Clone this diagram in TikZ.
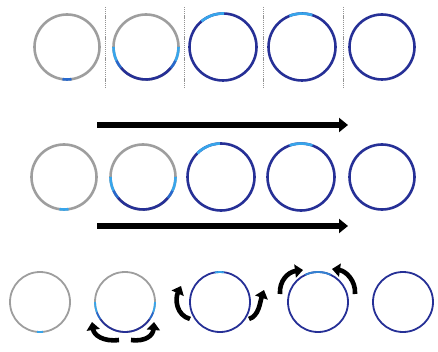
\documentclass[tikz,border=0pt]{standalone}
\usetikzlibrary{arrows.meta}
\definecolor{ringgray}{RGB}{158,158,158}
\definecolor{ringblue}{RGB}{38,48,150}
\definecolor{ringmid}{RGB}{40,105,205}
\definecolor{ringcyan}{RGB}{55,165,235}

\begin{document}
\begin{tikzpicture}[x=1pt, y=1pt, >={Triangle[length=9pt, width=14pt]}]
\tikzset{
	ring/.style={circle, draw=ringgray, line width=2.6pt, minimum size=65pt, inner sep=0pt, outer sep=0pt},
	bluering/.style={ring, draw=ringblue},
	thinring/.style={line width=1.8pt, minimum size=60pt},
	seg/.style={line width=2.6pt, line cap=butt},
	thinseg/.style={line width=1.8pt, line cap=butt},
	sep/.style={draw=gray!85, line width=1pt, dash pattern=on 1.2pt off 0.9pt},
	flow/.style={->, line width=5.5pt},
	turn/.style={-{Triangle[length=8pt, width=13pt]}, line width=4.6pt}
}
\useasboundingbox (0,0) rectangle (438,-352);

% Row 1 with separators
\node[ring] (a1) at (67,-47) {};
\node[ring] (a2) at (146,-47) {};
\node[bluering, minimum size=67pt] (a3) at (223,-47) {};
\node[bluering, minimum size=67pt] (a4) at (302,-47) {};
\node[bluering] (a5) at (382,-47) {};

\draw[seg, ringmid] (a1.262) arc[start angle=262, end angle=278, radius=32.5];
\draw[seg, ringcyan] (a2.180) arc[start angle=180, end angle=205, radius=32.5];
\draw[seg, ringmid] (a2.205) arc[start angle=205, end angle=220, radius=32.5];
\draw[seg, ringblue] (a2.220) arc[start angle=220, end angle=320, radius=32.5];
\draw[seg, ringmid] (a2.320) arc[start angle=320, end angle=335, radius=32.5];
\draw[seg, ringcyan] (a2.335) arc[start angle=335, end angle=360, radius=32.5];
\draw[seg, ringcyan] (a3.88) arc[start angle=88, end angle=130, radius=33.5];
\draw[seg, ringcyan] (a4.72) arc[start angle=72, end angle=112, radius=33.5];

\draw[sep] (105,-7) -- (105,-88);
\draw[sep] (184,-7) -- (184,-88);
\draw[sep] (263,-7) -- (263,-88);
\draw[sep] (343,-7) -- (343,-88);

% Row 2 between the two arrows
\coordinate (t1) at (97,-125);
\coordinate (t2) at (348,-125);
\coordinate (u1) at (97,-226);
\coordinate (u2) at (348,-226);
\draw[flow] (t1) -- (t2);
\draw[flow] (u1) -- (u2);

\node[ring] (b1) at (64,-177) {};
\node[ring] (b2) at (143,-177) {};
\node[bluering, minimum size=67pt] (b3) at (221,-177) {};
\node[bluering, minimum size=67pt] (b4) at (301,-177) {};
\node[bluering] (b5) at (382,-177) {};

\draw[seg, ringcyan] (b1.262) arc[start angle=262, end angle=278, radius=32.5];
\draw[seg, ringcyan] (b2.180) arc[start angle=180, end angle=205, radius=32.5];
\draw[seg, ringmid] (b2.205) arc[start angle=205, end angle=220, radius=32.5];
\draw[seg, ringblue] (b2.220) arc[start angle=220, end angle=320, radius=32.5];
\draw[seg, ringmid] (b2.320) arc[start angle=320, end angle=335, radius=32.5];
\draw[seg, ringcyan] (b2.335) arc[start angle=335, end angle=360, radius=32.5];
\draw[seg, ringcyan] (b3.92) arc[start angle=92, end angle=135, radius=33.5];
\draw[seg, ringcyan] (b4.70) arc[start angle=70, end angle=110, radius=33.5];

% Row 3 with turning arrows
\node[ring, thinring] (c1) at (40,-302) {};
\node[ring, thinring] (c2) at (125,-302) {};
\node[bluering, thinring] (c3) at (220,-302) {};
\node[bluering, thinring] (c4) at (318,-302) {};
\node[bluering, thinring] (c5) at (403,-302) {};

\draw[thinseg, ringcyan] (c1.264) arc[start angle=264, end angle=276, radius=30];
\draw[thinseg, ringcyan] (c2.180) arc[start angle=180, end angle=200, radius=30];
\draw[thinseg, ringmid] (c2.200) arc[start angle=200, end angle=215, radius=30];
\draw[thinseg, ringblue] (c2.215) arc[start angle=215, end angle=325, radius=30];
\draw[thinseg, ringmid] (c2.325) arc[start angle=325, end angle=340, radius=30];
\draw[thinseg, ringcyan] (c2.340) arc[start angle=340, end angle=360, radius=30];
\draw[thinseg, ringcyan] (c3.82) arc[start angle=82, end angle=100, radius=30];
\draw[thinseg, ringcyan!70!ringblue] (c4.65) arc[start angle=65, end angle=115, radius=30];

\draw[turn] (119,-340) .. controls (103,-342) and (94,-335) .. (92,-322);
\draw[turn] (131,-340) .. controls (146,-342) and (153,-335) .. (154,-322);
\draw[turn] (190,-319) .. controls (176,-315) and (175,-299) .. (181,-286);
\draw[turn] (249,-319) .. controls (259,-316) and (260,-302) .. (264,-290);
\draw[turn] (280,-294) .. controls (279,-281) and (288,-272) .. (303,-270);
\draw[turn] (355,-294) .. controls (356,-281) and (346,-271) .. (332,-269);
\end{tikzpicture}
\end{document}
